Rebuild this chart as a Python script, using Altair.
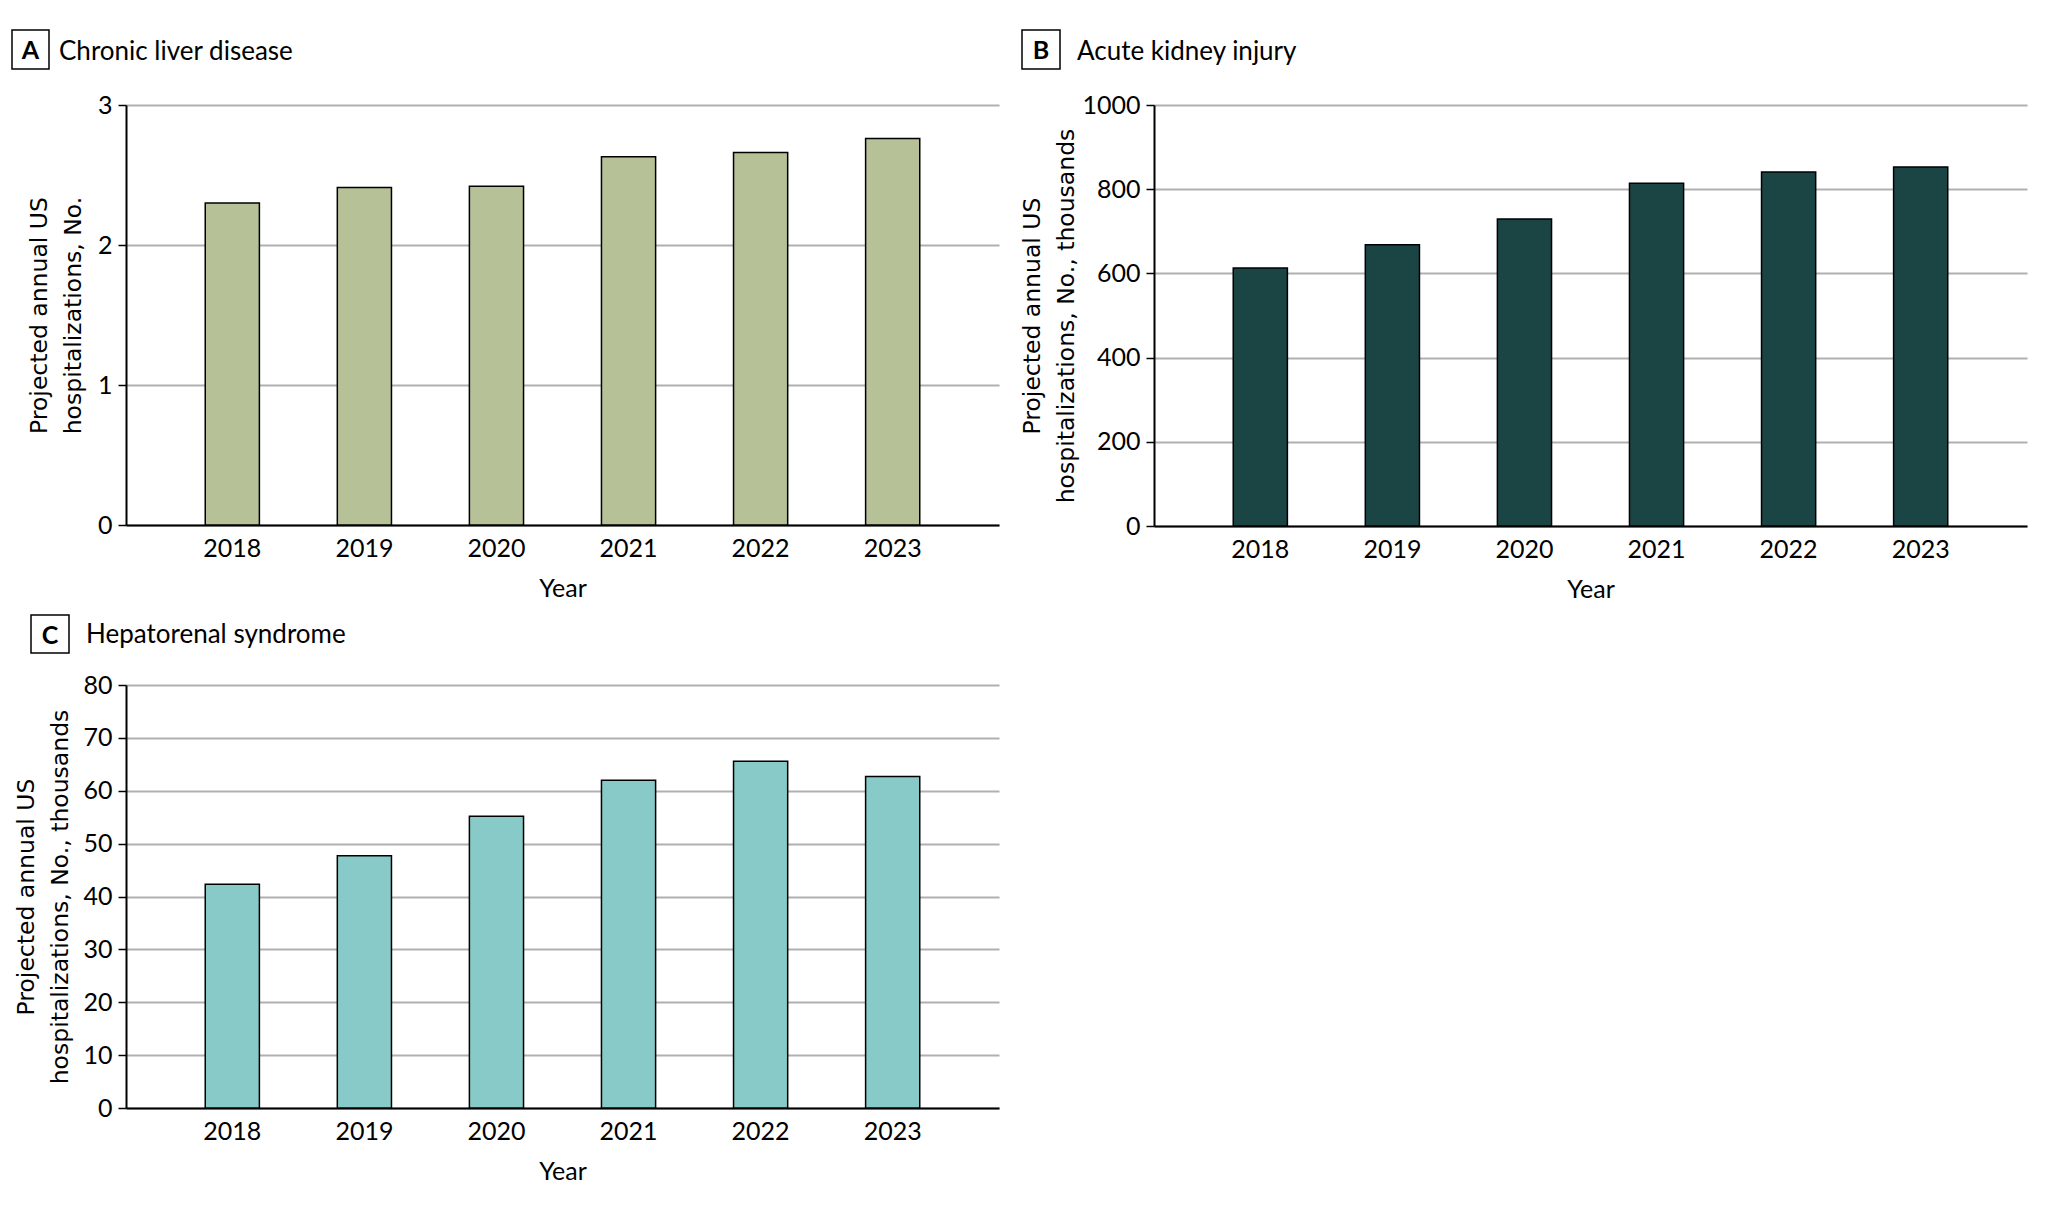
import altair as alt
import pandas as pd

years = ["2018", "2019", "2020", "2021", "2022", "2023"]
liver_values = [2.30, 2.41, 2.42, 2.63, 2.66, 2.76]
aki_values = [613, 668, 729, 814, 841, 853]
hrs_values = [42.3, 47.7, 55.2, 62.0, 65.6, 62.7]

panel_letters = ["A", "B", "C"]
panel_titles = ["Chronic liver disease", "Acute kidney injury", "Hepatorenal syndrome"]
y_titles = [
    ["Projected annual US", "hospitalizations, No."],
    ["Projected annual US", "hospitalizations, No., thousands"],
    ["Projected annual US", "hospitalizations, No., thousands"],
]
y_ticks = [
    [0, 1, 2, 3],
    [0, 200, 400, 600, 800, 1000],
    [0, 10, 20, 30, 40, 50, 60, 70, 80],
]
bar_colors = ["#b7c197", "#1b4545", "#88cac8"]

LABEL_FONT = "Lato"
TITLE_FONT = "DejaVu Sans"
one_row = pd.DataFrame({"k": [0]})


def panel(values, color, letter, title, ytitle, ticks, height,
          box, letter_y, text_x, text_y, ytitle_pad):
    df = pd.DataFrame({"year": years, "value": values})
    bars = alt.Chart(df).mark_bar(
        color=color, stroke="black", strokeWidth=1.5
    ).encode(
        x=alt.X(
            "year:N", sort=years,
            scale=alt.Scale(paddingInner=0.59, paddingOuter=0.6),
            axis=alt.Axis(
                title="Year", labelAngle=0, ticks=False, grid=False,
                domainColor="black", domainWidth=2,
                labelFont=LABEL_FONT, labelFontSize=25, labelColor="black",
                labelPadding=11,
                titleFont=LABEL_FONT, titleFontSize=25, titleFontWeight="normal",
                titleColor="black", titlePadding=15,
            ),
        ),
        y=alt.Y(
            "value:Q",
            scale=alt.Scale(domain=[ticks[0], ticks[-1]], nice=False),
            axis=alt.Axis(
                values=ticks, format="d", title=ytitle,
                grid=True, gridColor="#b0b0b0", gridWidth=2,
                domainColor="black", domainWidth=2,
                tickColor="black", tickSize=8, tickWidth=1.5,
                labelFont=LABEL_FONT, labelFontSize=25, labelColor="black",
                labelPadding=6,
                titleFont=TITLE_FONT, titleFontSize=23.5, titleFontWeight="normal",
                titleColor="black", titlePadding=ytitle_pad, titleLineHeight=34,
            ),
        ),
    )
    x0, x1, y0, y1 = box
    box_mark = alt.Chart(one_row).mark_rect(
        fill="white", stroke="black", strokeWidth=1.5
    ).encode(
        x=alt.value(x0), x2=alt.value(x1), y=alt.value(y0), y2=alt.value(y1)
    )
    letter_mark = alt.Chart(one_row).mark_text(
        text=letter, font=LABEL_FONT, fontWeight="bold", fontSize=25,
        align="center", baseline="alphabetic", color="black"
    ).encode(x=alt.value((x0 + x1) / 2), y=alt.value(letter_y))
    title_mark = alt.Chart(one_row).mark_text(
        text=title, font=LABEL_FONT, fontSize=26,
        align="left", baseline="alphabetic", color="black"
    ).encode(x=alt.value(text_x), y=alt.value(text_y))
    return alt.layer(bars, box_mark, letter_mark, title_mark).properties(
        width=873, height=height
    )


pa = panel(liver_values, bar_colors[0], panel_letters[0], panel_titles[0], y_titles[0],
           y_ticks[0], 420, (-114, -77, -75, -36), -46, -67, -45, 12)
pb = panel(aki_values, bar_colors[1], panel_letters[1], panel_titles[1], y_titles[1],
           y_ticks[1], 421, (-132, -94, -75, -36), -46, -77, -45, 3)
pc = panel(hrs_values, bar_colors[2], panel_letters[2], panel_titles[2], y_titles[2],
           y_ticks[2], 423, (-95, -57, -70, -32), -41, -40, -42, 10)

chart = alt.vconcat(
    alt.hconcat(pa, pb, spacing=21),
    pc,
    spacing=12,
).properties(
    padding={"left": 3, "top": 21, "right": 5, "bottom": 5},
    background="white",
).configure_view(
    stroke=None
)

chart.save("out.html", embed_options={"renderer": "svg", "actions": False})
